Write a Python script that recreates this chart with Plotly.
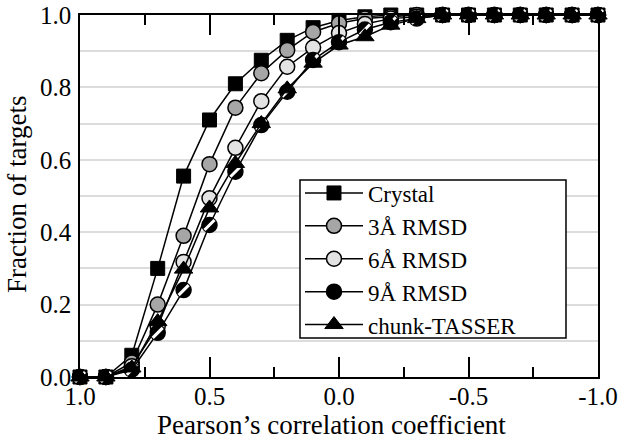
import plotly.graph_objects as go

x_vals = [1.0, 0.9, 0.8, 0.7, 0.6, 0.5, 0.4, 0.3, 0.2, 0.1, 0.0,
          -0.1, -0.2, -0.3, -0.4, -0.5, -0.6, -0.7, -0.8, -0.9, -1.0]
crystal = [0, 0, 0.06, 0.30, 0.555, 0.71, 0.81, 0.875, 0.93, 0.965, 0.985,
           0.995, 1.0, 1.0, 1.0, 1.0, 1.0, 1.0, 1.0, 1.0, 1.0]
rmsd3 = [0, 0, 0.04, 0.20, 0.39, 0.588, 0.744, 0.839, 0.903, 0.953, 0.977,
         0.99, 0.995, 1.0, 1.0, 1.0, 1.0, 1.0, 1.0, 1.0, 1.0]
rmsd6 = [0, 0, 0.03, 0.14, 0.318, 0.494, 0.633, 0.762, 0.857, 0.91, 0.95,
         0.975, 0.99, 0.995, 1.0, 1.0, 1.0, 1.0, 1.0, 1.0, 1.0]
rmsd9 = [0, 0, 0.02, 0.122, 0.24, 0.42, 0.567, 0.696, 0.788, 0.876, 0.925,
         0.96, 0.98, 0.99, 1.0, 1.0, 1.0, 1.0, 1.0, 1.0, 1.0]
chunk = [0, 0, 0.025, 0.153, 0.298, 0.467, 0.59, 0.70, 0.796, 0.867, 0.917,
         0.94, 0.972, 0.99, 1.0, 1.0, 1.0, 1.0, 1.0, 1.0, 1.0]

x_tick_vals = [1.0, 0.5, 0.0, -0.5, -1.0]
x_tick_labels = ["1.0", "0.5", "0.0", "-0.5", "-1.0"]
y_tick_vals = [0.0, 0.2, 0.4, 0.6, 0.8, 1.0]
y_tick_labels = ["0.0", "0.2", "0.4", "0.6", "0.8", "1.0"]
x_title = "Pearson’s correlation coefficient"
y_title = "Fraction of targets"

FONT = "Liberation Serif"
TICK_FS = 25
TITLE_FS = 27
LEG_FS = 23
fig = go.Figure()

line = dict(color="black", width=1.5)
fig.add_trace(go.Scatter(x=x_vals, y=crystal, name="Crystal", mode="lines+markers",
                         line=line, cliponaxis=False,
                         marker=dict(symbol="square", size=14, color="black",
                                     line=dict(color="black", width=1))))
fig.add_trace(go.Scatter(x=x_vals, y=rmsd3, name="3Å RMSD", mode="lines+markers",
                         line=line, cliponaxis=False,
                         marker=dict(symbol="circle", size=15, color="#a6a6a6",
                                     line=dict(color="black", width=1.5))))
fig.add_trace(go.Scatter(x=x_vals, y=rmsd6, name="6Å RMSD", mode="lines+markers",
                         line=line, cliponaxis=False,
                         marker=dict(symbol="circle", size=15, color="#e3e3e3",
                                     line=dict(color="black", width=1.5))))
fig.add_trace(go.Scatter(x=x_vals, y=rmsd9, name="9Å RMSD", mode="lines+markers",
                         line=line, cliponaxis=False,
                         marker=dict(symbol="circle", size=15, color="black",
                                     line=dict(color="black", width=1.5))))
fig.add_trace(go.Scatter(x=x_vals, y=rmsd9, name="9Å RMSD", mode="markers", showlegend=False,
                         cliponaxis=False,
                         marker=dict(symbol="line-ne", size=10,
                                     line=dict(color="white", width=3))))
fig.add_trace(go.Scatter(x=x_vals, y=chunk, name="chunk-TASSER", mode="lines+markers",
                         line=line, cliponaxis=False,
                         marker=dict(symbol="triangle-up", size=16, color="black",
                                     line=dict(color="black", width=1))))

fig.update_layout(
    width=624, height=439,
    margin=dict(l=80, r=26, t=15, b=62, autoexpand=False),
    paper_bgcolor="white", plot_bgcolor="white",
    font=dict(family=FONT, size=TICK_FS, color="black"),
    showlegend=True,
    legend=dict(x=0.4247, y=0.326, xanchor="left", yanchor="middle",
                borderwidth=0, bgcolor="rgba(0,0,0,0)",
                font=dict(family=FONT, size=LEG_FS), tracegroupgap=0,
                itemwidth=58),
    shapes=[dict(type="rect", xref="x", yref="y",
                 x0=0.1506, x1=-0.8764, y0=0.1077, y1=0.5442,
                 line=dict(color="black", width=1.5), fillcolor="white",
                 layer="between")],
    xaxis=dict(range=[1.0, -1.0], tickmode="array", tickvals=x_tick_vals, ticktext=x_tick_labels,
               ticks="inside", ticklen=20, tickwidth=1.5, tickcolor="black",
               tickfont=dict(family=FONT, size=TICK_FS), ticklabelstandoff=-4,
               minor=dict(dtick=0.25, tick0=0, ticks="inside", ticklen=10, tickwidth=1.5, tickcolor="black"),
               showline=True, linecolor="black", linewidth=1.5, mirror="ticks",
               showgrid=False, zeroline=False, automargin=False),
    yaxis=dict(range=[0, 1.0], tickmode="array", tickvals=y_tick_vals, ticktext=y_tick_labels,
               ticks="", showline=True, linecolor="black", linewidth=1.5, mirror=True,
               tickfont=dict(family=FONT, size=TICK_FS), ticklabelstandoff=2,
               showgrid=True, gridcolor="#dcdcdc", gridwidth=2,
               minor=dict(dtick=0.1, tick0=0, showgrid=True, gridcolor="#dcdcdc", gridwidth=2),
               zeroline=False, automargin=False),
    annotations=[
        dict(text=x_title, xref="paper", yref="paper", x=0.4846, y=-0.1326,
             xanchor="center", yanchor="middle", showarrow=False,
             font=dict(family=FONT, size=TITLE_FS)),
        dict(text=y_title, xref="paper", yref="paper", x=-0.1216, y=0.503,
             xanchor="center", yanchor="middle", showarrow=False, textangle=-90,
             font=dict(family=FONT, size=TITLE_FS)),
    ],
)

fig.write_html("out.html", config={"displayModeBar": False},
               post_script="document.body.style.margin='0px';")
